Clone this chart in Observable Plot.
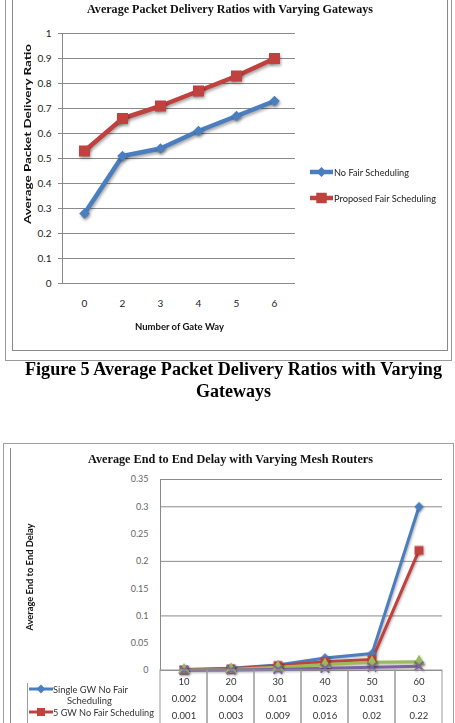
<!DOCTYPE html>
<html>
<head>
<meta charset="utf-8">
<script src="https://cdn.jsdelivr.net/npm/d3@7"></script>
<script src="https://cdn.jsdelivr.net/npm/@observablehq/plot@0.6"></script>
<style>
  html, body { margin: 0; padding: 0; background: #fff; }
  #page { position: relative; width: 455px; height: 723px; overflow: hidden; background: #fff; }
  #page > svg { position: absolute; left: 0; }
  .ratio-chart text { fill: #222; }
  .delay-chart text { fill: #666; }
  .delay-table text { fill: #333; }
</style>
</head>
<body>
<div id="page"></div>
<script>
// ---- Figure 5: packet delivery ratio against number of gateways ----
const gateways = ["0", "2", "3", "4", "5", "6"];
const ratioSeries = ["No Fair Scheduling", "Proposed Fair Scheduling"];
const noFairScheduling = [0.28, 0.51, 0.54, 0.61, 0.67, 0.73];
const proposedFairScheduling = [0.53, 0.66, 0.71, 0.77, 0.83, 0.90];
const ratioTicks = [0, 0.1, 0.2, 0.3, 0.4, 0.5, 0.6, 0.7, 0.8, 0.9, 1];

// ---- End to end delay against number of mesh routers ----
const meshRouters = ["10", "20", "30", "40", "50", "60"];
const delaySeries = ["Single GW No Fair Scheduling", "5 GW No Fair Scheduling",
                     "Single GW Fair Scheduling", "5 GW Fair Scheduling"];
const singleGwNoFair = [0.002, 0.004, 0.01, 0.023, 0.031, 0.3];
const multiGwNoFair = [0.001, 0.003, 0.009, 0.016, 0.02, 0.22];
const singleGwFair = [0.001, 0.002, 0.006, 0.011, 0.015, 0.016];
const multiGwFair = [0.0005, 0.001, 0.002, 0.004, 0.006, 0.008];
const delayTicks = [0, 0.05, 0.1, 0.15, 0.2, 0.25, 0.3, 0.35];
const delayGrid = [0, 0.1, 0.2, 0.3, 0.35];

const blue = "#4a7ebf", red = "#c0413e", green = "#9bbb59", purple = "#7f63a1";
const sans = "'Liberation Sans Narrow', Lato, 'Liberation Sans', sans-serif";
const serif = "'Liberation Serif', 'DejaVu Serif', serif";
const num = d => String(+d.toFixed(4));
const page = document.getElementById("page");

function place(node, top) {
  node.style.top = top + "px";
  page.appendChild(node);
  return node;
}

// Long-format rows for the ratio chart
const ratioRows = gateways.flatMap((g, i) => [
  {gateway: g, series: ratioSeries[0], ratio: noFairScheduling[i]},
  {gateway: g, series: ratioSeries[1], ratio: proposedFairScheduling[i]}
]);

const ratioChart = Plot.plot({
  className: "ratio-chart",
  width: 455, height: 360,
  marginLeft: 62, marginRight: 160, marginTop: 33, marginBottom: 77,
  style: {fontFamily: sans, fontSize: "10px", color: "#8a8a8a", background: "transparent", overflow: "visible"},
  x: {type: "band", domain: gateways, padding: 0, tickSize: 0, tickPadding: 16, label: null},
  y: {domain: [0, 1], ticks: ratioTicks, tickFormat: num, tickSize: 4, tickPadding: 7, line: true, label: null},
  color: {domain: ratioSeries, range: [blue, red]},
  marks: [
    Plot.ruleY(ratioTicks, {stroke: "#8a8a8a"}),
    Plot.line(ratioRows, {x: "gateway", y: "ratio", z: "series", stroke: "series", strokeWidth: 4.5}),
    Plot.dot(ratioRows.filter(d => d.series === ratioSeries[0]),
      {x: "gateway", y: "ratio", fill: "series", symbol: "diamond2", r: 4.8}),
    Plot.dot(ratioRows.filter(d => d.series === ratioSeries[1]),
      {x: "gateway", y: "ratio", fill: "series", symbol: "square", r: 6.2})
  ]
});
place(ratioChart, 0);

// Long-format rows for the delay chart
const delayValues = [singleGwNoFair, multiGwNoFair, singleGwFair, multiGwFair];
const delayRows = delaySeries.flatMap((s, k) =>
  meshRouters.map((m, i) => ({routers: m, series: s, delay: delayValues[k][i]})));
const bySeries = k => delayRows.filter(d => d.series === delaySeries[k]);

const delayChart = Plot.plot({
  className: "delay-chart",
  width: 455, height: 202,
  marginLeft: 160, marginRight: 13, marginTop: 9, marginBottom: 2,
  style: {fontFamily: sans, fontSize: "9px", color: "#8a8a8a", background: "transparent", overflow: "visible"},
  x: {type: "band", domain: meshRouters, padding: 0, axis: null},
  y: {domain: [0, 0.35], ticks: delayTicks, tickFormat: num, tickSize: 0, tickPadding: 12, line: true, label: null},
  color: {domain: delaySeries, range: [blue, red, green, purple]},
  marks: [
    Plot.ruleY(delayGrid, {stroke: "#8a8a8a"}),
    Plot.line(delayRows, {x: "routers", y: "delay", z: "series", stroke: "series", strokeWidth: 3}),
    Plot.dot(bySeries(0), {x: "routers", y: "delay", fill: "series", symbol: "diamond2", r: 4.2}),
    Plot.dot(bySeries(1), {x: "routers", y: "delay", fill: "series", symbol: "square", r: 5}),
    Plot.dot(bySeries(2), {x: "routers", y: "delay", fill: "series", symbol: "triangle", r: 4.5}),
    Plot.dot(bySeries(3), {x: "routers", y: "delay", stroke: "series", symbol: "times", r: 4, strokeWidth: 2})
  ]
});
place(delayChart, 470);

// Data table under the delay chart, sharing its category columns
const delayTable = Plot.plot({
  className: "delay-table",
  width: 455, height: 70,
  marginLeft: 160, marginRight: 13, marginTop: 0, marginBottom: 0,
  style: {fontFamily: sans, fontSize: "9.5px", background: "transparent", overflow: "visible"},
  x: {type: "band", domain: meshRouters, padding: 0, axis: null},
  marks: [
    Plot.cell(meshRouters, {x: d => d, fill: "none", stroke: "#9a9a9a"}),
    Plot.text(meshRouters, {x: d => d, text: d => d, frameAnchor: "top", dy: 8}),
    Plot.text(meshRouters, {x: d => d, text: (d, i) => num(singleGwNoFair[i]), frameAnchor: "top", dy: 25}),
    Plot.text(meshRouters, {x: d => d, text: (d, i) => num(multiGwNoFair[i]), frameAnchor: "top", dy: 42})
  ]
});
place(delayTable, 670);

// Frames, titles, caption and legends
const svg = d3.create("svg").attr("width", 455).attr("height", 723)
  .style("top", "0px").style("pointer-events", "none");

function frame(x, y, w, h, color) {
  svg.append("rect").attr("x", x).attr("y", y).attr("width", w).attr("height", h)
    .attr("fill", "none").attr("stroke", color);
}
frame(5.5, -10, 446, 370.5, "#9a9a9a");
frame(12.5, -10, 435, 360.5, "#8a8a8a");
frame(3.5, 443.5, 450, 400, "#a0a0a0");
svg.append("line").attr("x1", 10.5).attr("x2", 10.5).attr("y1", 448).attr("y2", 723).attr("stroke", "#8a8a8a");

function label(t, o) {
  const el = svg.append("text").text(t)
    .attr("font-family", o.family || sans)
    .attr("font-size", o.size)
    .attr("font-weight", o.weight || "normal")
    .attr("fill", o.fill || "#222")
    .attr("text-anchor", o.anchor || "start");
  if (o.central) el.attr("dominant-baseline", "central");
  if (o.length) el.attr("textLength", o.length).attr("lengthAdjust", "spacingAndGlyphs");
  if (o.rotate) el.attr("transform", `translate(${o.x},${o.y}) rotate(${o.rotate})`);
  else el.attr("x", o.x).attr("y", o.y);
  return el;
}

// Figure 5 texts
label("Average Packet Delivery Ratios with Varying Gateways",
  {x: 87, y: 12.5, size: 13.5, weight: "bold", family: serif, length: 286, fill: "#111"});
label("Average Packet Delivery Ratio",
  {x: 27, y: 134, rotate: -90, size: 10, weight: "bold", anchor: "middle", central: true, length: 180, fill: "#111"});
label("Number of Gate Way",
  {x: 135, y: 326, size: 10, weight: "bold", central: true, length: 89, fill: "#111"});

// Figure 5 legend
const keys = [
  {y: 172, color: blue, symbol: d3.symbolDiamond2, size: 64, text: ratioSeries[0], length: 75},
  {y: 198, color: red, symbol: d3.symbolSquare, size: 110, text: ratioSeries[1], length: 102}
];
for (const k of keys) {
  svg.append("line").attr("x1", 310).attr("x2", 333).attr("y1", k.y).attr("y2", k.y)
    .attr("stroke", k.color).attr("stroke-width", 4.5);
  svg.append("path").attr("d", d3.symbol(k.symbol, k.size)()).attr("fill", k.color)
    .attr("transform", `translate(321.5,${k.y})`);
  label(k.text, {x: 334, y: k.y, size: 10, central: true, length: k.length});
}

// Caption
label("Figure 5 Average Packet Delivery Ratios with Varying",
  {x: 25, y: 375, size: 18, weight: "bold", family: serif, length: 417, fill: "#000"});
label("Gateways",
  {x: 233.5, y: 397, size: 18, weight: "bold", family: serif, anchor: "middle", fill: "#000"});

// Delay chart texts
label("Average End to End Delay with Varying Mesh Routers",
  {x: 88, y: 463, size: 12, weight: "bold", family: serif, length: 285, fill: "#111"});
label("Average End to End Delay",
  {x: 30, y: 577, rotate: -90, size: 8.5, weight: "bold", anchor: "middle", central: true, length: 107, fill: "#111"});

// Legend keys inside the data table
svg.append("line").attr("x1", 27.5).attr("x2", 27.5).attr("y1", 683).attr("y2", 723).attr("stroke", "#9a9a9a");
const tableKeys = [
  {y: 689, color: blue, symbol: d3.symbolDiamond2, size: 50},
  {y: 712, color: red, symbol: d3.symbolSquare, size: 64}
];
for (const k of tableKeys) {
  svg.append("line").attr("x1", 29).attr("x2", 53).attr("y1", k.y).attr("y2", k.y)
    .attr("stroke", k.color).attr("stroke-width", 3);
  svg.append("path").attr("d", d3.symbol(k.symbol, k.size)()).attr("fill", k.color)
    .attr("transform", `translate(41,${k.y})`);
}
label("Single GW No Fair", {x: 53, y: 689, size: 9.5, central: true, length: 75, fill: "#333"});
label("Scheduling", {x: 89.5, y: 700, size: 9.5, central: true, anchor: "middle", length: 45, fill: "#333"});
label("5 GW No Fair Scheduling", {x: 53, y: 712, size: 9.5, central: true, length: 101, fill: "#333"});

place(svg.node(), 0);

// Soft drop shadow under the plotted series
d3.selectAll(".ratio-chart g[aria-label=line], .ratio-chart g[aria-label=dot]")
  .style("filter", "drop-shadow(1.5px 2px 1.5px rgba(0,0,0,0.35))");
d3.selectAll(".delay-chart g[aria-label=line], .delay-chart g[aria-label=dot]")
  .style("filter", "drop-shadow(1px 1.5px 1px rgba(0,0,0,0.3))");
</script>
</body>
</html>
